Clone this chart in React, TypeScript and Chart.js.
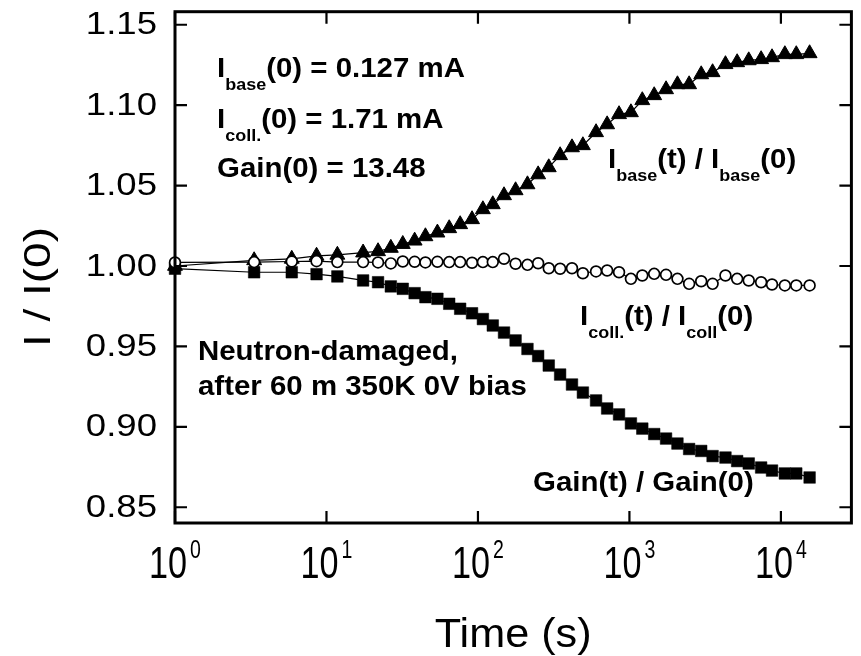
import { useEffect, useRef } from "react";
import { Chart, registerables } from "chart.js";

Chart.register(...registerables);

// Measurement times (s)
const times = [
  1, 3.33, 5.9, 8.6, 11.8, 17.45, 21.9, 26.6, 31.9, 38.2, 45.0, 54.0, 64.6, 76.3,
  91.4, 107.8, 125.3, 148.6, 177.2, 212.3, 249.7, 293.4, 348.7, 417.7, 492.9,
  602.1, 712.7, 853.9, 1023, 1216, 1457, 1745, 2075, 2478, 2978, 3540, 4305,
  5142, 6133, 7403, 8737, 10620, 12630, 15470,
];

// I_base(t) / I_base(0)
const baseRatio = [
  1.0, 1.0035, 1.0044, 1.0063, 1.0069, 1.0083, 1.0091, 1.0112, 1.0136, 1.0157,
  1.0184, 1.0207, 1.0234, 1.0259, 1.029, 1.0352, 1.0383, 1.0439, 1.047, 1.0507,
  1.0569, 1.0613, 1.0688, 1.0737, 1.075, 1.0831, 1.088, 1.0943, 1.0955, 1.103,
  1.1061, 1.1098, 1.1129, 1.1129, 1.1191, 1.1204, 1.1254, 1.1266, 1.1278,
  1.1285, 1.1297, 1.1316, 1.1316, 1.1322,
];

// I_coll(t) / I_coll(0)
const collRatio = [
  1.0022, 1.0024, 1.0028, 1.003, 1.0024, 1.0024, 1.0022, 1.0016, 1.0028, 1.0026,
  1.0022, 1.0026, 1.0024, 1.0024, 1.002, 1.0024, 1.0024, 1.0045, 1.0014, 1.0007,
  1.0017, 0.9986, 0.9983, 0.9986, 0.9955, 0.9966, 0.9972, 0.9961, 0.992, 0.9941,
  0.9951, 0.9945, 0.992, 0.9889, 0.9905, 0.9889, 0.9941, 0.992, 0.991, 0.9899,
  0.9885, 0.9879, 0.9879, 0.9879,
];

// Gain(t) / Gain(0)
const gainRatio = [
  0.9983, 0.9961, 0.9961, 0.9949, 0.9935, 0.991, 0.9899, 0.9873, 0.9858, 0.9831,
  0.9806, 0.9796, 0.9765, 0.9734, 0.9706, 0.967, 0.963, 0.9586, 0.9537, 0.9484,
  0.944, 0.9381, 0.9325, 0.9263, 0.9213, 0.9164, 0.9114, 0.9077, 0.9021, 0.8989,
  0.8955, 0.8927, 0.8896, 0.8862, 0.885, 0.8818, 0.8809, 0.8787, 0.8772, 0.8747,
  0.8728, 0.871, 0.871, 0.8685,
];

const yTickValues = [0.85, 0.9, 0.95, 1.0, 1.05, 1.1, 1.15];
const yTickLabels = ["0.85", "0.90", "0.95", "1.00", "1.05", "1.10", "1.15"];
const xTickValues = [1, 10, 100, 1000, 10000];
const xTickExponents = ["0", "1", "2", "3", "4"];
const xTitle = "Time (s)";
const yTitle = "I / I(0)";

type Seg = { t: string; sub?: boolean };
type Note = { segs: Seg[]; x: number; y: number };

const notes: Note[] = [
  { segs: [{ t: "I" }, { t: "base", sub: true }, { t: "(0) = 0.127 mA" }], x: 217, y: 77 },
  { segs: [{ t: "I" }, { t: "coll.", sub: true }, { t: "(0) = 1.71 mA" }], x: 217, y: 128 },
  { segs: [{ t: "Gain(0) = 13.48" }], x: 217, y: 176.5 },
  {
    segs: [{ t: "I" }, { t: "base", sub: true }, { t: "(t) / I" }, { t: "base", sub: true }, { t: "(0)" }],
    x: 608, y: 168,
  },
  {
    segs: [{ t: "I" }, { t: "coll.", sub: true }, { t: "(t) / I" }, { t: "coll", sub: true }, { t: "(0)" }],
    x: 580, y: 325,
  },
  { segs: [{ t: "Gain(t) / Gain(0)" }], x: 533, y: 491 },
  { segs: [{ t: "Neutron-damaged," }], x: 198, y: 360 },
  { segs: [{ t: "after 60 m 350K 0V bias" }], x: 198, y: 395 },
];

const FAMILY = '"Liberation Sans", Arial, Helvetica, sans-serif';

function drawStretched(
  ctx: CanvasRenderingContext2D,
  text: string,
  x: number,
  y: number,
  font: string,
  sx: number,
  align: "left" | "center" | "right",
  baseline: CanvasTextBaseline
): number {
  ctx.save();
  ctx.font = font;
  ctx.textBaseline = baseline;
  ctx.textAlign = "left";
  const w = ctx.measureText(text).width * sx;
  const x0 = align === "left" ? x : align === "center" ? x - w / 2 : x - w;
  ctx.translate(x0, y);
  ctx.scale(sx, 1);
  ctx.fillStyle = "#000";
  ctx.fillText(text, 0, 0);
  ctx.restore();
  return w;
}

const framePlugin = {
  id: "frameAndText",
  afterDraw(chart: any) {
    const ctx: CanvasRenderingContext2D = chart.ctx;
    const { left, right, top, bottom } = chart.chartArea;
    const xs = chart.scales.x;
    const ys = chart.scales.y;
    const tickLen = 12;

    ctx.save();
    ctx.strokeStyle = "#000";
    ctx.lineCap = "butt";

    // inward tick marks
    ctx.lineWidth = 2.2;
    ctx.beginPath();
    yTickValues.forEach((v) => {
      const py = ys.getPixelForValue(v);
      ctx.moveTo(left, py);
      ctx.lineTo(left + tickLen, py);
      ctx.moveTo(right, py);
      ctx.lineTo(right - tickLen, py);
    });
    xTickValues.forEach((v) => {
      const px = xs.getPixelForValue(v);
      ctx.moveTo(px, bottom);
      ctx.lineTo(px, bottom - tickLen);
      ctx.moveTo(px, top);
      ctx.lineTo(px, top + tickLen);
    });
    ctx.stroke();

    // plot frame
    ctx.lineWidth = 3;
    ctx.strokeRect(left, top, right - left, bottom - top);
    ctx.restore();

    // y tick labels
    yTickValues.forEach((v, i) => {
      const py = ys.getPixelForValue(v);
      drawStretched(ctx, yTickLabels[i], left - 18, py + 1, `31px ${FAMILY}`, 1.18, "right", "middle");
    });

    // x tick labels: 10 with superscript exponent
    xTickValues.forEach((v, i) => {
      const px = xs.getPixelForValue(v);
      ctx.save();
      ctx.font = `45px ${FAMILY}`;
      const wBase = ctx.measureText("10").width * 0.76;
      ctx.font = `25px ${FAMILY}`;
      const wExp = ctx.measureText(xTickExponents[i]).width * 0.78;
      ctx.restore();
      const total = wBase + 3 + wExp;
      const x0 = px - total / 2;
      drawStretched(ctx, "10", x0, 578, `45px ${FAMILY}`, 0.76, "left", "alphabetic");
      drawStretched(ctx, xTickExponents[i], x0 + wBase + 3, 558, `25px ${FAMILY}`, 0.78, "left", "alphabetic");
    });

    // axis titles
    drawStretched(ctx, xTitle, (left + right) / 2, 647, `40px ${FAMILY}`, 1.08, "center", "alphabetic");
    ctx.save();
    ctx.translate(50, 287);
    ctx.rotate(-Math.PI / 2);
    drawStretched(ctx, yTitle, 0, 0, `37px ${FAMILY}`, 1.24, "center", "alphabetic");
    ctx.restore();

    // annotations
    const sx = 1.09;
    notes.forEach((n) => {
      let x = n.x;
      n.segs.forEach((s) => {
        if (s.sub) {
          x += drawStretched(ctx, s.t, x, n.y + 12.5, `bold 16.5px ${FAMILY}`, sx, "left", "alphabetic");
        } else {
          x += drawStretched(ctx, s.t, x, n.y, `bold 27px ${FAMILY}`, sx, "left", "alphabetic");
        }
      });
    });
  },
};

export default function App() {
  const canvasRef = useRef<HTMLCanvasElement | null>(null);

  useEffect(() => {
    const canvas = canvasRef.current;
    if (!canvas) return;
    const toPoints = (ys: number[]) => times.map((t, i) => ({ x: t, y: ys[i] }));

    const chart = new Chart(canvas, {
      type: "line",
      data: {
        datasets: [
          {
            label: "I_coll(t) / I_coll(0)",
            data: toPoints(collRatio),
            order: 0,
            borderColor: "#000",
            borderWidth: 1.2,
            pointStyle: "circle",
            pointRadius: 5.4,
            pointBackgroundColor: "#fff",
            pointBorderColor: "#000",
            pointBorderWidth: 1.7,
            clip: false,
          },
          {
            label: "I_base(t) / I_base(0)",
            data: toPoints(baseRatio),
            order: 1,
            borderColor: "#000",
            borderWidth: 1.2,
            pointStyle: "triangle",
            pointRadius: 8.6,
            pointBackgroundColor: "#000",
            pointBorderColor: "#000",
            pointBorderWidth: 1,
            clip: false,
          },
          {
            label: "Gain(t) / Gain(0)",
            data: toPoints(gainRatio),
            order: 2,
            borderColor: "#000",
            borderWidth: 1.2,
            pointStyle: "rect",
            pointRadius: 8.2,
            pointBackgroundColor: "#000",
            pointBorderColor: "#000",
            pointBorderWidth: 0.5,
            clip: false,
          },
        ],
      },
      options: {
        animation: false,
        responsive: false,
        events: [],
        layout: { padding: { left: 175, top: 11.7, right: 2.7, bottom: 133 } },
        plugins: { legend: { display: false }, tooltip: { enabled: false } },
        scales: {
          x: { type: "logarithmic", min: 1, max: 29200, display: false },
          y: { type: "linear", min: 0.8402, max: 1.1581, display: false },
        },
      },
      plugins: [framePlugin],
    });

    return () => chart.destroy();
  }, []);

  return (
    <div style={{ position: "fixed", left: 0, top: 0, width: 861, height: 656, background: "#fff" }}>
      <canvas ref={canvasRef} width={861} height={656} style={{ display: "block" }} />
    </div>
  );
}
